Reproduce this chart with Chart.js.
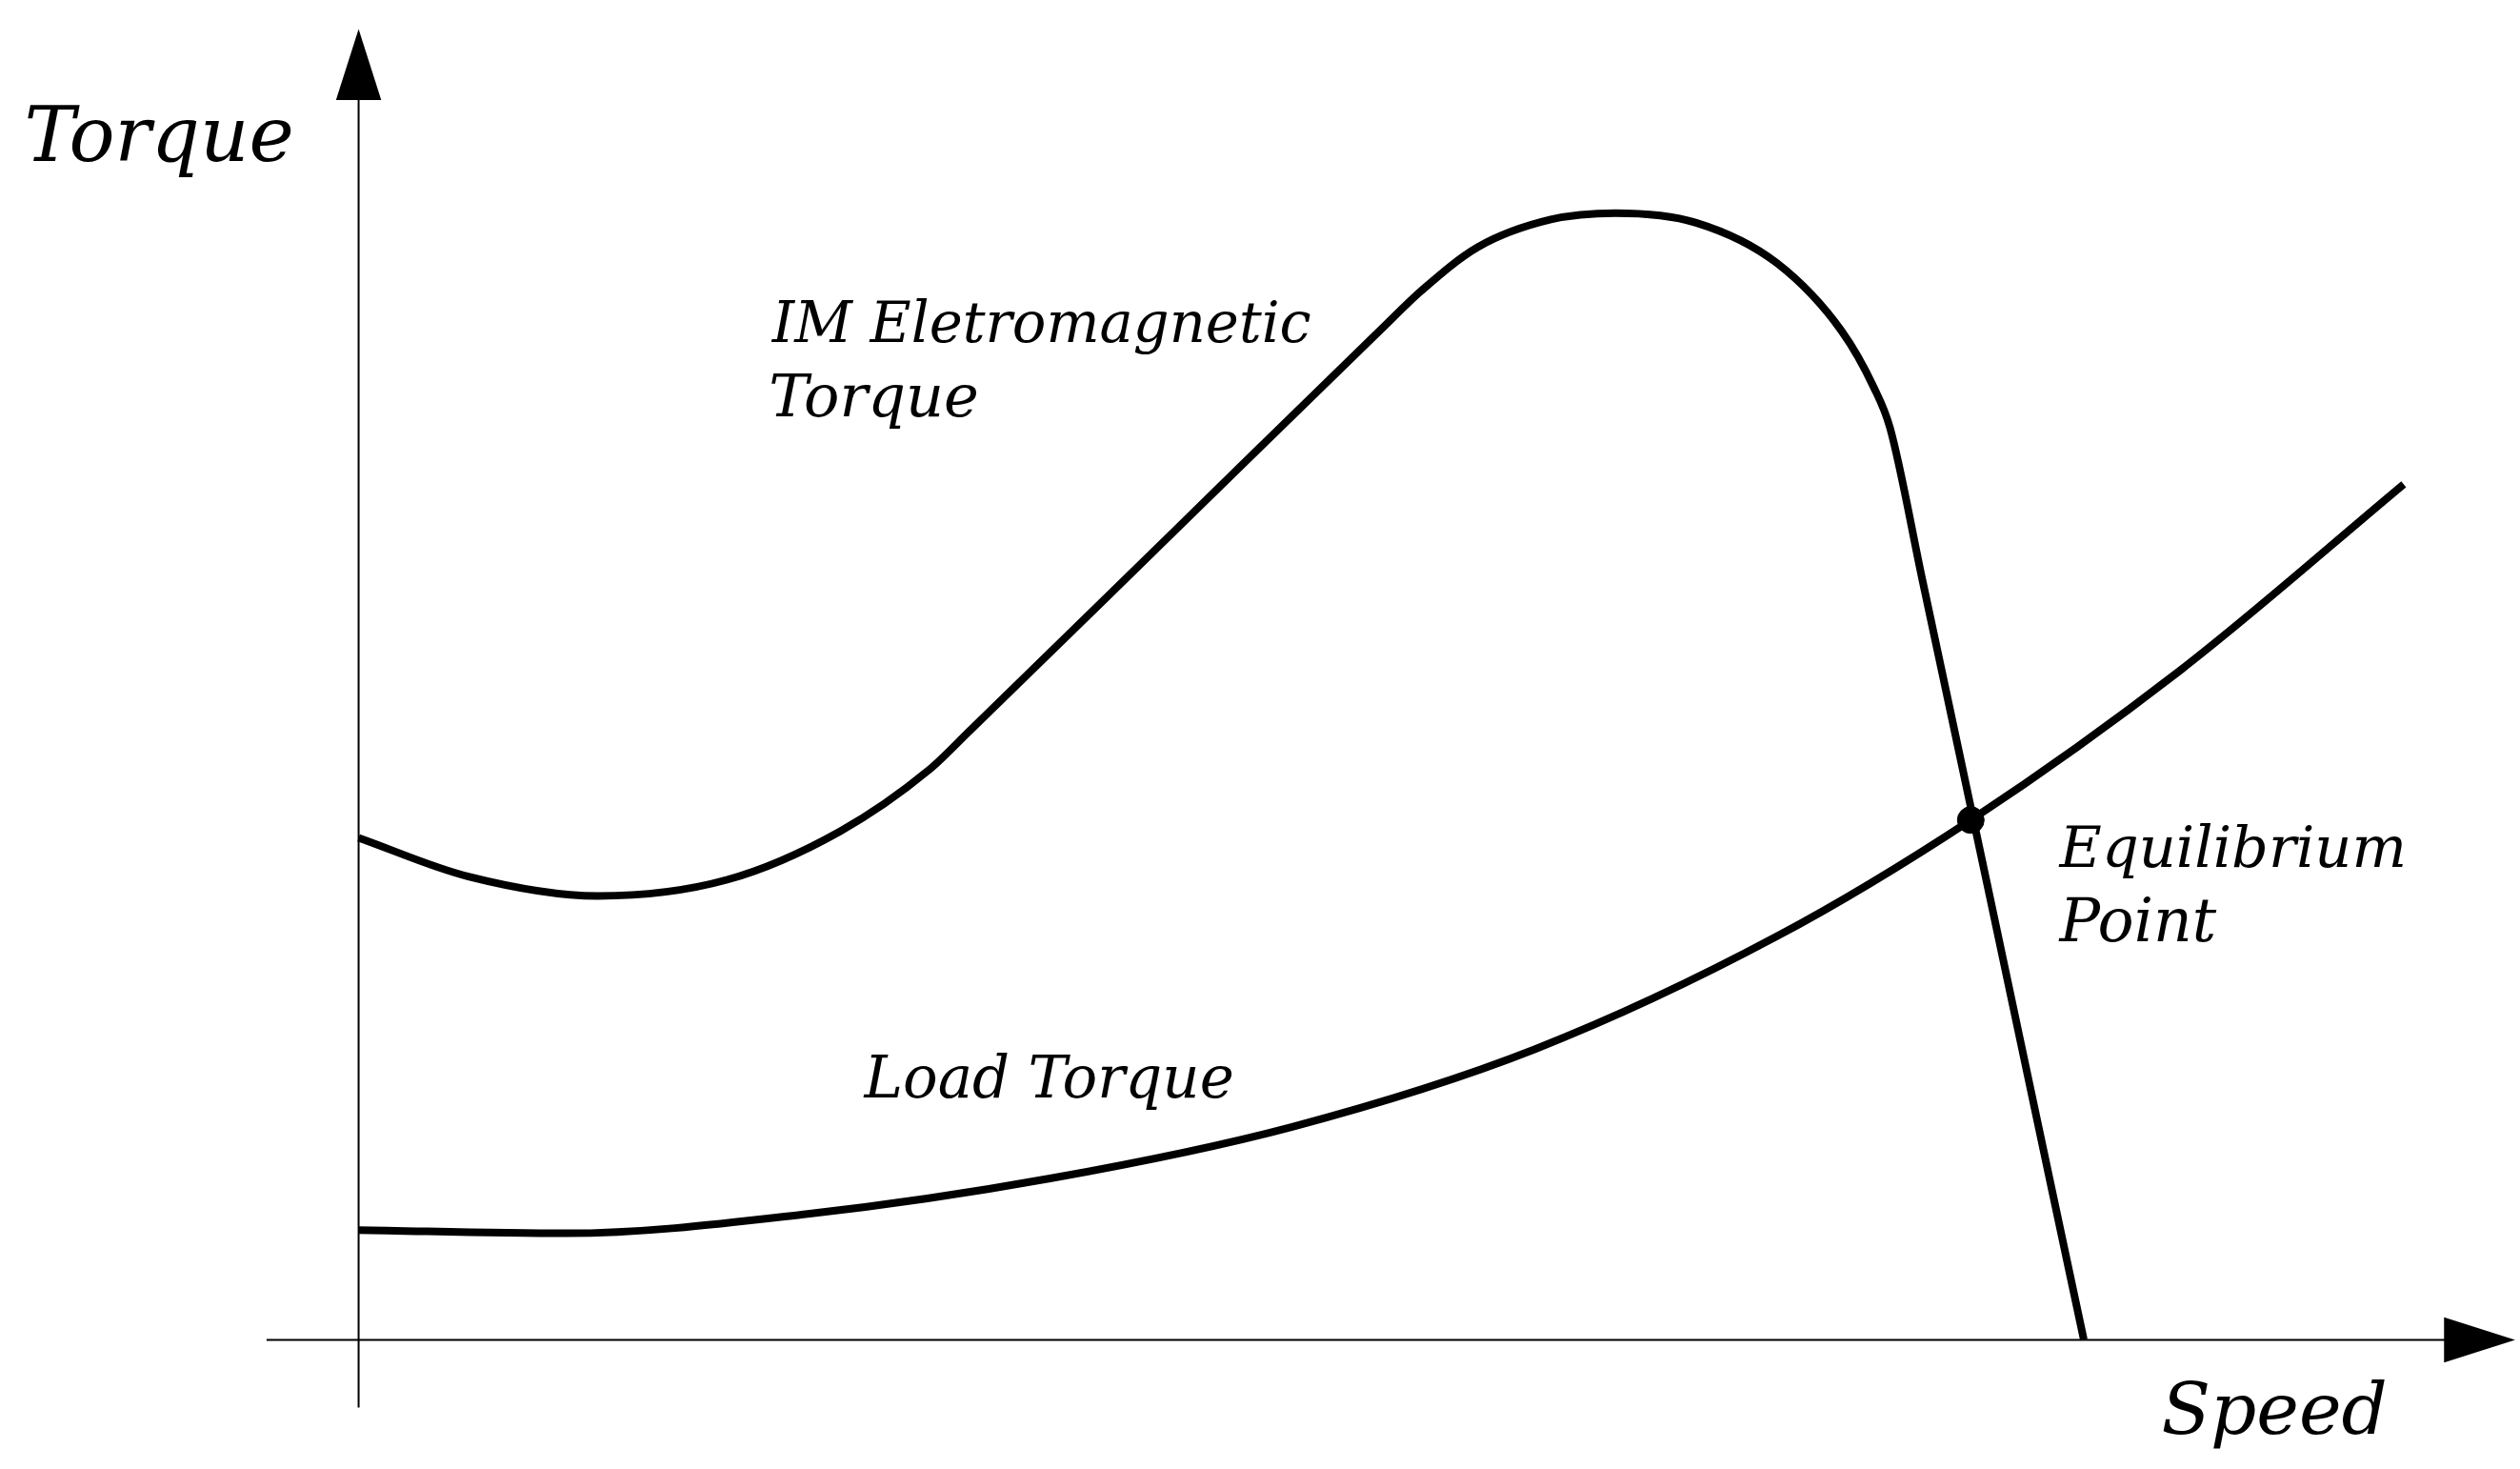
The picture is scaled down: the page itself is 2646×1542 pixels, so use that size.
<!DOCTYPE html>
<html>
<head>
<meta charset="utf-8">
<style>html,body{margin:0;padding:0;background:#fff;overflow:hidden}</style>
<script src="https://cdn.jsdelivr.net/npm/chart.js@4/dist/chart.umd.min.js"></script>
</head>
<body>
<canvas id="c" width="2646" height="1542"></canvas>
<script>
// values, in picture units (x right, y down)
var imX = [222, 290, 370, 450, 520, 575, 600, 727, 855, 880, 915, 960, 1000, 1050, 1100, 1140, 1160, 1170, 1190, 1230, 1270, 1290];
var imY = [519, 543, 555, 545, 515, 477, 453, 329, 204, 180, 153, 136, 132, 138, 163, 205, 240, 265, 359, 547, 736, 830];
var loadX = [222, 350, 500, 650, 800, 950, 1100, 1220, 1350, 1488];
var loadY = [762, 764, 752, 730, 698, 650, 580, 508, 415, 300];
var eqPoint = [1220, 508];

// text labels: [text, x, baseline, target width]
var labels = [
    ['Torque', 15, 100, 167],
    ['IM Eletromagnetic', 478, 212, 334],
    ['Torque', 476, 258, 130],
    ['Load Torque', 535, 680, 229],
    ['Equilibrium', 1275, 537, 215],
    ['Point', 1275, 583, 97],
    ['Speed', 1338, 888, 140]
];

function pts(xs, ys) {
    return xs.map(function (x, i) { return {x: x, y: ys[i]}; });
}

var axesPlugin = {
    id: 'axes',
    beforeDatasetsDraw: function (chart) {
        var ctx = chart.ctx, sx = chart.scales.x, sy = chart.scales.y;
        var X = function (v) { return sx.getPixelForValue(v); };
        var Y = function (v) { return sy.getPixelForValue(v); };
        ctx.save();
        ctx.strokeStyle = '#000';
        ctx.fillStyle = '#000';
        ctx.lineWidth = 2;
        ctx.beginPath();
        ctx.moveTo(X(222), Y(872)); ctx.lineTo(X(222), Y(50));
        ctx.moveTo(X(165), Y(830)); ctx.lineTo(X(1520), Y(830));
        ctx.stroke();
        ctx.beginPath();
        ctx.moveTo(X(222), Y(18)); ctx.lineTo(X(208), Y(62)); ctx.lineTo(X(236), Y(62));
        ctx.closePath(); ctx.fill();
        ctx.beginPath();
        ctx.moveTo(X(1557), Y(830)); ctx.lineTo(X(1513), Y(816)); ctx.lineTo(X(1513), Y(844));
        ctx.closePath(); ctx.fill();
        ctx.restore();
    },
    afterDatasetsDraw: function (chart) {
        var ctx = chart.ctx, sx = chart.scales.x, sy = chart.scales.y;
        var k = chart.width / 1560;
        ctx.save();
        ctx.fillStyle = '#000';
        ctx.textBaseline = 'alphabetic';
        labels.forEach(function (l) {
            ctx.font = 'italic 100px "DejaVu Serif"';
            var w = ctx.measureText(l[0]).width;
            var size = 100 * l[3] * k / w;
            ctx.font = 'italic ' + size.toFixed(1) + 'px "DejaVu Serif"';
            ctx.fillText(l[0], sx.getPixelForValue(l[1]), sy.getPixelForValue(l[2]));
        });
        ctx.restore();
    }
};

new Chart(document.getElementById('c'), {
    type: 'scatter',
    data: {
        datasets: [{
            data: pts(imX, imY),
            showLine: true,
            borderColor: '#000',
            borderWidth: 8,
            pointRadius: 0,
            cubicInterpolationMode: 'monotone',
            clip: false
        }, {
            data: pts(loadX, loadY),
            showLine: true,
            borderColor: '#000',
            borderWidth: 8,
            pointRadius: 0,
            cubicInterpolationMode: 'monotone',
            clip: false
        }, {
            data: [{x: eqPoint[0], y: eqPoint[1]}],
            pointRadius: 14,
            backgroundColor: '#000',
            borderColor: '#000',
            clip: false
        }]
    },
    options: {
        responsive: false,
        animation: false,
        devicePixelRatio: 1,
        layout: {padding: 0, autoPadding: false},
        plugins: {legend: {display: false}, tooltip: {enabled: false}},
        scales: {
            x: {type: 'linear', min: 0, max: 1560, display: false},
            y: {type: 'linear', min: 0, max: 910, reverse: true, display: false}
        }
    },
    plugins: [axesPlugin]
});
</script>
</body>
</html>
